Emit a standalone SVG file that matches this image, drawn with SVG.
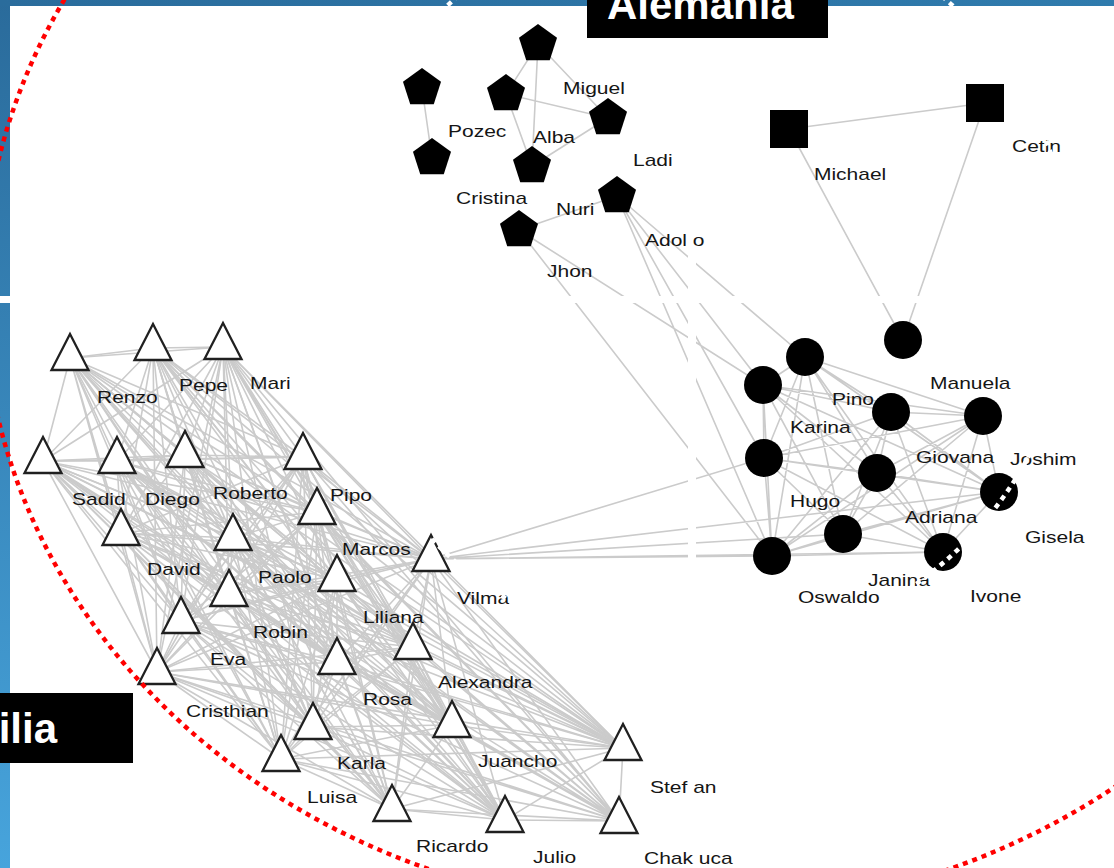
<svg xmlns="http://www.w3.org/2000/svg" width="1114" height="868" viewBox="0 0 1114 868">
  <style>
    .edge { fill: none; stroke: #cbcbcb; stroke-width: 1.6; stroke-linejoin: round; stroke-linecap: round; }
    .tri { fill: #ffffff; stroke: #202020; stroke-width: 2.3; }
    .blk { fill: #000000; }
    .lbl { font-family: "Liberation Sans", Arial, sans-serif; font-size: 21px; fill: #151515; transform: scale(1, 0.8); }
    .tag { font-family: "Liberation Sans", Arial, sans-serif; font-size: 42px; font-weight: bold; fill: #ffffff; }
    .gap { fill: #ffffff; }
  </style>
  <defs>
    <linearGradient id="frameGrad" x1="0" y1="0" x2="0" y2="1">
      <stop offset="0" stop-color="#2a6b9b"/>
      <stop offset="1" stop-color="#47a4dc"/>
    </linearGradient>
    <linearGradient id="barGrad" x1="0" y1="0" x2="1" y2="0">
      <stop offset="0" stop-color="#2a6c9c"/>
      <stop offset="1" stop-color="#2f7bad"/>
    </linearGradient>
    <!-- triangle anchored at its apex -->
    <polygon id="tri" class="tri" points="0,0 18.5,36 -18.5,36"/>
    <!-- pentagon anchored at its centre -->
    <polygon id="pent" class="blk" points="0,-20 19.02,-6.18 11.76,16.18 -11.76,16.18 -19.02,-6.18"/>
    <circle id="dot" class="blk" r="19"/>
    <rect id="sq" class="blk" x="-19" y="-19" width="38" height="38"/>
  </defs>

  <!-- frame and canvas -->
  <rect width="1114" height="868" fill="url(#frameGrad)"/>
  <rect width="1114" height="6" fill="url(#barGrad)"/>
  <rect x="10" y="6" width="1104" height="862" fill="#ffffff"/>

  <g id="connectors">
    <!-- triangle group: every pair linked, drawn as step cycles over 23 nodes -->
    <polyline class="edge" points="70,358 153,348 223,347 43,461 117,461 185,455 303,457 121,533 233,538 317,512 431,559 337,579 229,594 181,621 413,647 337,662 157,672 313,727 281,759 392,809 452,725 623,748 505,820 70,358"/>
    <polyline class="edge" points="70,358 223,347 117,461 303,457 233,538 431,559 229,594 413,647 157,672 281,759 452,725 505,820 153,348 43,461 185,455 121,533 317,512 337,579 181,621 337,662 313,727 392,809 623,748 70,358"/>
    <polyline class="edge" points="70,358 43,461 303,457 317,512 229,594 337,662 281,759 623,748 153,348 117,461 121,533 431,559 181,621 157,672 392,809 505,820 223,347 185,455 233,538 337,579 413,647 313,727 452,725 70,358"/>
    <polyline class="edge" points="70,358 117,461 233,538 229,594 157,672 452,725 153,348 185,455 317,512 181,621 313,727 623,748 223,347 303,457 431,559 413,647 281,759 505,820 43,461 121,533 337,579 337,662 392,809 70,358"/>
    <polyline class="edge" points="70,358 185,455 431,559 337,662 452,725 223,347 121,533 229,594 313,727 505,820 117,461 317,512 413,647 392,809 153,348 303,457 337,579 157,672 623,748 43,461 233,538 181,621 281,759 70,358"/>
    <polyline class="edge" points="70,358 303,457 229,594 281,759 153,348 121,533 181,621 392,809 223,347 233,538 413,647 452,725 43,461 317,512 337,662 623,748 117,461 431,559 157,672 505,820 185,455 337,579 313,727 70,358"/>
    <polyline class="edge" points="70,358 121,533 413,647 623,748 185,455 229,594 392,809 43,461 431,559 313,727 153,348 233,538 337,662 505,820 303,457 181,621 452,725 117,461 337,579 281,759 223,347 317,512 157,672 70,358"/>
    <polyline class="edge" points="70,358 233,538 157,672 153,348 317,512 313,727 223,347 431,559 281,759 43,461 337,579 392,809 117,461 229,594 452,725 185,455 181,621 623,748 303,457 413,647 505,820 121,533 337,662 70,358"/>
    <polyline class="edge" points="70,358 317,512 281,759 117,461 181,621 505,820 233,538 313,727 43,461 229,594 623,748 121,533 157,672 223,347 337,579 452,725 303,457 337,662 153,348 431,559 392,809 185,455 413,647 70,358"/>
    <polyline class="edge" points="70,358 431,559 452,725 121,533 313,727 117,461 413,647 153,348 337,579 623,748 233,538 281,759 185,455 337,662 223,347 229,594 505,820 317,512 392,809 303,457 157,672 43,461 181,621 70,358"/>
    <polyline class="edge" points="70,358 337,579 505,820 431,559 623,748 317,512 452,725 233,538 392,809 121,533 281,759 303,457 313,727 185,455 157,672 117,461 337,662 43,461 413,647 223,347 181,621 153,348 229,594 70,358"/>
    <path class="edge" d="M619 821L70 358M619 821L153 348M619 821L223 347M619 821L43 461M619 821L117 461M619 821L185 455M619 821L303 457M619 821L121 533M619 821L233 538M619 821L317 512M619 821L431 559M619 821L337 579M619 821L229 594M619 821L181 621M619 821L413 647M619 821L337 662M619 821L157 672M619 821L313 727M619 821L281 759M619 821L392 809M619 821L452 725M619 821L623 748M619 821L505 820"/>

    <!-- circle group -->
    <path class="edge" d="M805 357L763 385M805 357L891 412M805 357L983 416M805 357L764 458M805 357L877 473M805 357L999 492M805 357L843 534M805 357L943 552M805 357L772 556
      M763 385L891 412M763 385L983 416M763 385L764 458M763 385L877 473M763 385L999 492M763 385L843 534M763 385L943 552M763 385L772 556
      M891 412L983 416M891 412L764 458M891 412L877 473M891 412L999 492M891 412L843 534M891 412L943 552M891 412L772 556
      M983 416L764 458M983 416L877 473M983 416L999 492M983 416L843 534M983 416L943 552M983 416L772 556
      M764 458L877 473M764 458L999 492M764 458L843 534M764 458L943 552M764 458L772 556
      M877 473L999 492M877 473L843 534M877 473L943 552M877 473L772 556
      M999 492L843 534M999 492L943 552M999 492L772 556
      M843 534L943 552M843 534L772 556M943 552L772 556"/>

    <!-- links between groups -->
    <path class="edge" d="M431 559L764 458M431 559L772 556M431 559L843 534M431 559L943 552M431 559L999 492
      M617 196L772 556M617 196L764 458M617 196L763 385M617 196L805 357
      M519 230L772 556M519 230L763 385"/>

    <!-- squares -->
    <path class="edge" d="M789 129L985 103M789 129L903 340M985 103L903 340"/>

    <!-- pentagon group -->
    <path class="edge" d="M422 88L432 158M538 44L506 94M538 44L532 166M538 44L608 118M506 94L608 118M506 94L532 166M532 166L608 118M617 196L519 230"/>
  </g>

  <!-- pentagons -->
  <g id="n-miguel"><use href="#pent" x="538" y="44"/><text class="lbl" x="563" y="117.5">Miguel</text></g>
  <g id="n-pozec"><use href="#pent" x="422" y="88"/><text class="lbl" x="448" y="171.25">Pozec</text></g>
  <g id="n-alba"><use href="#pent" x="506" y="94"/><text class="lbl" x="533" y="178.75">Alba</text></g>
  <g id="n-ladi"><use href="#pent" x="608" y="118"/><text class="lbl" x="633" y="207.5">Ladi</text></g>
  <g id="n-cristina"><use href="#pent" x="432" y="158"/><text class="lbl" x="456" y="255">Cristina</text></g>
  <g id="n-nuri"><use href="#pent" x="532" y="166"/><text class="lbl" x="556" y="268.75">Nuri</text></g>
  <g id="n-adolfo"><use href="#pent" x="617" y="196"/><text class="lbl" x="645" y="307.5">Adol o</text></g>
  <g id="n-jhon"><use href="#pent" x="519" y="230"/><text class="lbl" x="547" y="346.25">Jhon</text></g>

  <!-- squares -->
  <g id="n-michael"><use href="#sq" x="789" y="129"/><text class="lbl" x="814" y="225">Michael</text></g>
  <g id="n-cetin"><use href="#sq" x="985" y="103"/><text class="lbl" x="1012" y="190">Cetin</text></g>

  <!-- circles -->
  <g id="n-manuela"><use href="#dot" x="903" y="340"/><text class="lbl" x="930" y="486.25">Manuela</text></g>
  <g id="n-pino"><use href="#dot" x="805" y="357"/><text class="lbl" x="832" y="506.25">Pino</text></g>
  <g id="n-karina"><use href="#dot" x="763" y="385"/><text class="lbl" x="790" y="541.25">Karina</text></g>
  <g id="n-giovana"><use href="#dot" x="891" y="412"/><text class="lbl" x="916" y="578.75">Giovana</text></g>
  <g id="n-joshim"><use href="#dot" x="983" y="416"/><text class="lbl" x="1010" y="581.25">Joshim</text></g>
  <g id="n-hugo"><use href="#dot" x="764" y="458"/><text class="lbl" x="790" y="633.75">Hugo</text></g>
  <g id="n-adriana"><use href="#dot" x="877" y="473"/><text class="lbl" x="905" y="653.75">Adriana</text></g>
  <g id="n-gisela"><use href="#dot" x="999" y="492"/><text class="lbl" x="1025" y="678.75">Gisela</text></g>
  <g id="n-janina"><use href="#dot" x="843" y="534"/><text class="lbl" x="868" y="732.5">Janina</text></g>
  <g id="n-ivone"><use href="#dot" x="943" y="552"/><text class="lbl" x="970" y="752.5">Ivone</text></g>
  <g id="n-oswaldo"><use href="#dot" x="772" y="556"/><text class="lbl" x="798" y="753.75">Oswaldo</text></g>

  <!-- triangles -->
  <g id="n-renzo"><use href="#tri" x="70" y="334"/><text class="lbl" x="97" y="503.75">Renzo</text></g>
  <g id="n-pepe"><use href="#tri" x="153" y="324"/><text class="lbl" x="179" y="488.75">Pepe</text></g>
  <g id="n-mari"><use href="#tri" x="223" y="323"/><text class="lbl" x="250" y="486.25">Mari</text></g>
  <g id="n-sadid"><use href="#tri" x="43" y="437"/><text class="lbl" x="72" y="631.25">Sadid</text></g>
  <g id="n-diego"><use href="#tri" x="117" y="437"/><text class="lbl" x="145" y="631.25">Diego</text></g>
  <g id="n-roberto"><use href="#tri" x="185" y="431"/><text class="lbl" x="213" y="623.75">Roberto</text></g>
  <g id="n-pipo"><use href="#tri" x="303" y="433"/><text class="lbl" x="330" y="626.25">Pipo</text></g>
  <g id="n-david"><use href="#tri" x="121" y="509"/><text class="lbl" x="147" y="718.75">David</text></g>
  <g id="n-paolo"><use href="#tri" x="233" y="514"/><text class="lbl" x="258" y="728.75">Paolo</text></g>
  <g id="n-marcos"><use href="#tri" x="317" y="488"/><text class="lbl" x="342" y="693.75">Marcos</text></g>
  <g id="n-vilma"><use href="#tri" x="431" y="535"/><text class="lbl" x="457" y="755">Vilma</text></g>
  <g id="n-liliana"><use href="#tri" x="337" y="555"/><text class="lbl" x="363" y="778.75">Liliana</text></g>
  <g id="n-robin"><use href="#tri" x="229" y="570"/><text class="lbl" x="253" y="797.5">Robin</text></g>
  <g id="n-eva"><use href="#tri" x="181" y="597"/><text class="lbl" x="210" y="831.25">Eva</text></g>
  <g id="n-alexandra"><use href="#tri" x="413" y="623"/><text class="lbl" x="438" y="860">Alexandra</text></g>
  <g id="n-rosa"><use href="#tri" x="337" y="638"/><text class="lbl" x="363" y="881.25">Rosa</text></g>
  <g id="n-cristhian"><use href="#tri" x="157" y="648"/><text class="lbl" x="186" y="896.25">Cristhian</text></g>
  <g id="n-karla"><use href="#tri" x="313" y="703"/><text class="lbl" x="337" y="961.25">Karla</text></g>
  <g id="n-luisa"><use href="#tri" x="281" y="735"/><text class="lbl" x="307" y="1003.75">Luisa</text></g>
  <g id="n-ricardo"><use href="#tri" x="392" y="785"/><text class="lbl" x="416" y="1065">Ricardo</text></g>
  <g id="n-juancho"><use href="#tri" x="452" y="701"/><text class="lbl" x="478" y="958.75">Juancho</text></g>
  <g id="n-stefan"><use href="#tri" x="623" y="724"/><text class="lbl" x="650" y="991.25">Stef an</text></g>
  <g id="n-julio"><use href="#tri" x="505" y="796"/><text class="lbl" x="533" y="1078.75">Julio</text></g>
  <g id="n-chakuca"><use href="#tri" x="619" y="797"/><text class="lbl" x="644" y="1080">Chak uca</text></g>

  <!-- seams between the captured panels -->
  <rect class="gap" x="0" y="296" width="1114" height="7"/>
  <rect class="gap" x="688" y="256" width="8" height="302"/>

  <!-- group outlines -->
  <ellipse cx="689" cy="290" rx="706" ry="623" fill="none" stroke="#ff0000" stroke-width="4.5" stroke-dasharray="5 5"/>
  <circle cx="700" cy="280" r="373" fill="none" stroke="#ffffff" stroke-width="4.5" stroke-dasharray="5 5"/>

  <!-- group tags -->
  <g id="tag-alemania">
    <rect x="587" y="0" width="241" height="38" fill="#000000"/>
    <text class="tag" x="607" y="19">Alemania</text>
  </g>
  <g id="tag-ilia">
    <rect x="0" y="693" width="133" height="70" fill="#000000"/>
    <text class="tag" x="57" y="743" text-anchor="end">ilia</text>
  </g>
</svg>
